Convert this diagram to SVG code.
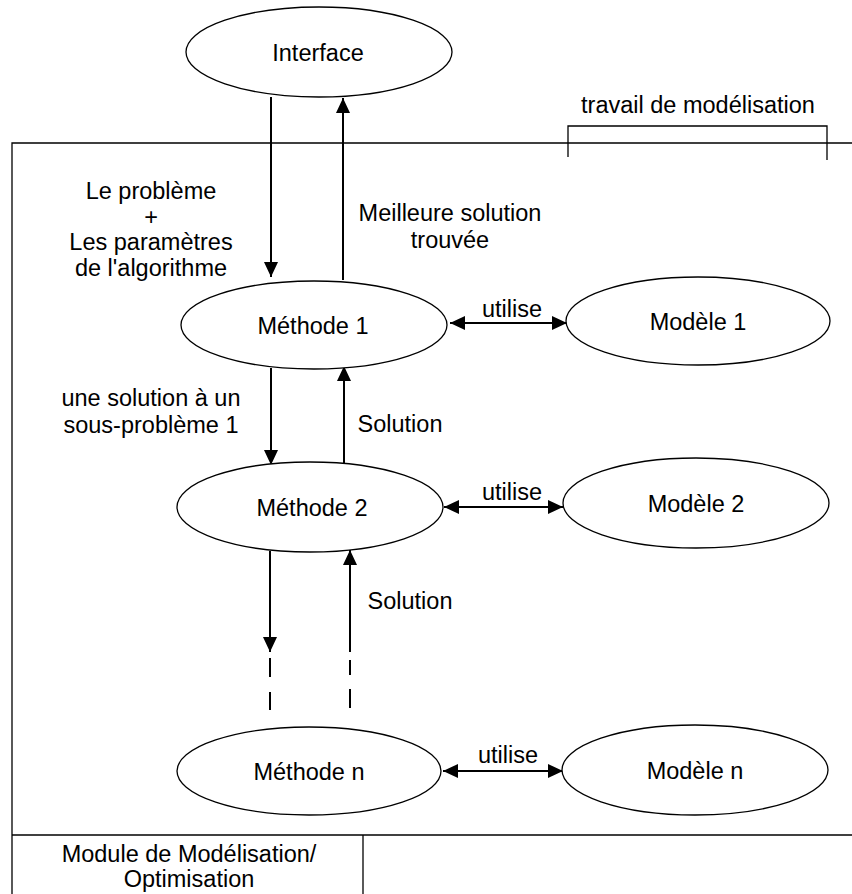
<svg xmlns="http://www.w3.org/2000/svg" width="852" height="894" viewBox="0 0 852 894">
<style>
text{font-family:"Liberation Sans",Arial,sans-serif;font-size:23.5px;fill:#000;text-anchor:middle}
.node ellipse{fill:#fff;stroke:#000;stroke-width:1.3}
.frame{fill:none;stroke:#000;stroke-width:1.3}
.conn{stroke:#000;stroke-width:2;fill:none}
.dash{stroke:#000;stroke-width:2;fill:none}
</style>
<defs>
<marker id="ah" markerUnits="userSpaceOnUse" markerWidth="15" markerHeight="14" viewBox="0 0 15 14" refX="15" refY="7" orient="auto-start-reverse">
<path d="M0,0 L15,7 L0,14 Z" fill="#000"/>
</marker>
</defs>
<rect width="852" height="894" fill="#fff"/>
<g id="frame" class="frame">
<path d="M12,894 V143 H852"/>
<path d="M12,835 H852"/>
<path d="M363,835 V894"/>
<path d="M568,157 V126 H827 V160"/>
</g>
<text x="698" y="113">travail de modélisation</text>
<text x="189" y="862">Module de Modélisation/</text>
<text x="189" y="887">Optimisation</text>

<g id="connectors">
<line class="conn" x1="271" y1="97" x2="271" y2="277" marker-end="url(#ah)"/>
<line class="conn" x1="343" y1="280" x2="343" y2="98" marker-end="url(#ah)"/>
<line class="conn" x1="271" y1="368" x2="271" y2="465" marker-end="url(#ah)"/>
<line class="conn" x1="344" y1="463" x2="344" y2="366" marker-end="url(#ah)"/>
<line class="conn" x1="270" y1="551" x2="270" y2="652" marker-end="url(#ah)"/>
<line class="conn" x1="350" y1="652" x2="350" y2="550" marker-end="url(#ah)"/>
<line class="dash" x1="270" y1="658" x2="270" y2="677"/>
<line class="dash" x1="270" y1="692" x2="270" y2="710"/>
<line class="dash" x1="350" y1="660" x2="350" y2="675"/>
<line class="dash" x1="350" y1="689" x2="350" y2="708"/>
<line class="conn" x1="450" y1="323" x2="567" y2="323" marker-start="url(#ah)" marker-end="url(#ah)"/>
<line class="conn" x1="444" y1="507" x2="563" y2="507" marker-start="url(#ah)" marker-end="url(#ah)"/>
<line class="conn" x1="443" y1="771" x2="563" y2="771" marker-start="url(#ah)" marker-end="url(#ah)"/>
<text x="151" y="199">Le problème</text>
<text x="151" y="225">+</text>
<text x="151" y="250">Les paramètres</text>
<text x="151" y="276">de l'algorithme</text>
<text x="450" y="221">Meilleure solution</text>
<text x="450" y="248">trouvée</text>
<text x="151" y="406">une solution à un</text>
<text x="151" y="433">sous-problème 1</text>
<text x="400" y="432">Solution</text>
<text x="410" y="609">Solution</text>
<text x="512" y="317">utilise</text>
<text x="512" y="500">utilise</text>
<text x="508" y="763">utilise</text>
</g>

<g id="interface" class="node"><ellipse cx="319" cy="52" rx="133" ry="45"/><text x="318" y="61">Interface</text></g>
<g id="methode1" class="node"><ellipse cx="314" cy="325" rx="133" ry="44"/><text x="313" y="334">Méthode 1</text></g>
<g id="modele1" class="node"><ellipse cx="698" cy="321" rx="132" ry="44"/><text x="698" y="330">Modèle 1</text></g>
<g id="methode2" class="node"><ellipse cx="310" cy="507" rx="133" ry="45"/><text x="312" y="516">Méthode 2</text></g>
<g id="modele2" class="node"><ellipse cx="696" cy="503" rx="133" ry="45"/><text x="696" y="512">Modèle 2</text></g>
<g id="methoden" class="node"><ellipse cx="309" cy="771" rx="132" ry="44"/><text x="309" y="780">Méthode n</text></g>
<g id="modelen" class="node"><ellipse cx="695" cy="770" rx="133" ry="45"/><text x="695" y="779">Modèle n</text></g>
</svg>
